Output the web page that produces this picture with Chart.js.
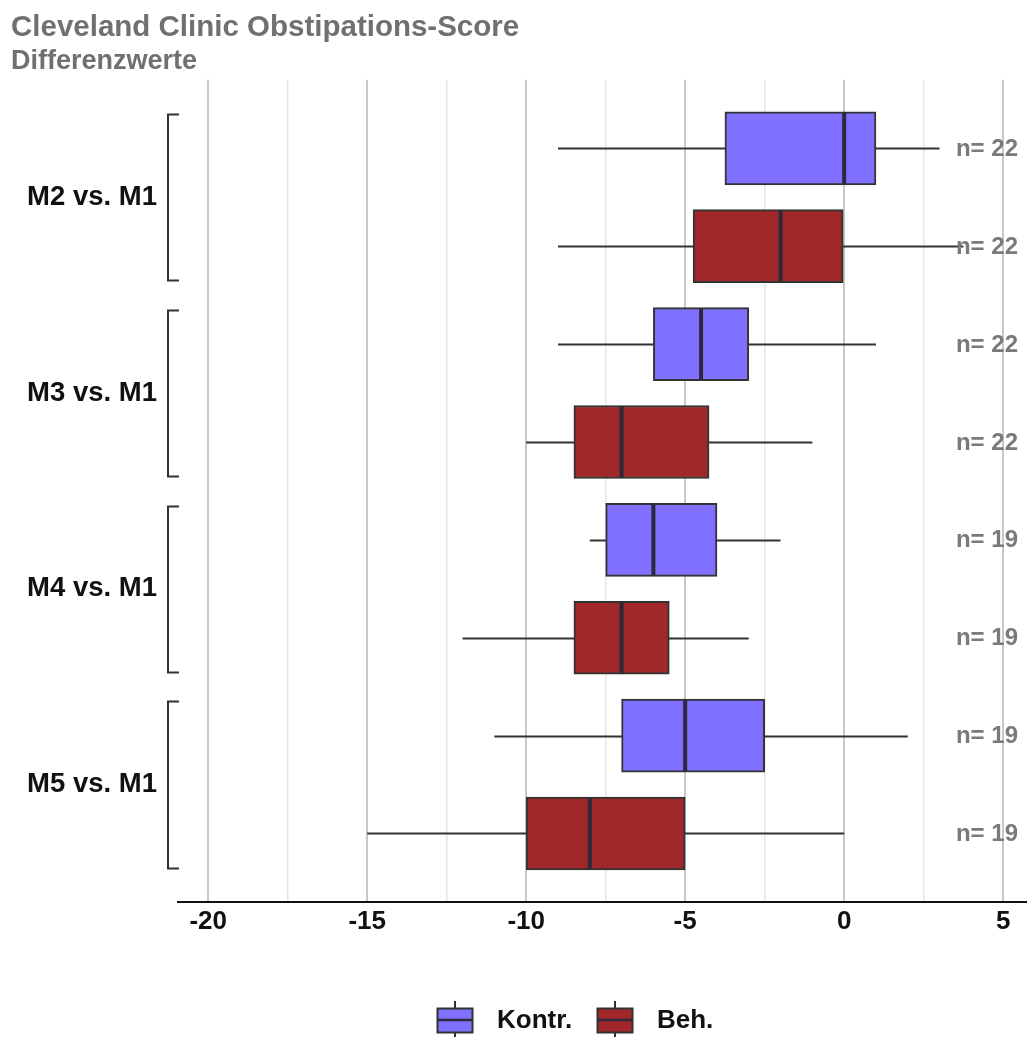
<!DOCTYPE html>
<html>
<head>
<meta charset="utf-8">
<script src="https://cdn.jsdelivr.net/npm/chart.js@4"></script>
<style>
  html, body { margin: 0; padding: 0; background: #ffffff; }
  canvas { display: block; }
</style>
</head>
<body>
<canvas id="c" width="1027" height="1037"></canvas>
<script>
// Comparisons shown on the vertical axis
const categories = ['M2 vs. M1', 'M3 vs. M1', 'M4 vs. M1', 'M5 vs. M1'];
const groupLabels = ['Kontr.', 'Beh.'];

// Five-number summaries of the score differences: [min, q1, median, q3, max]
const kontrStats = [
  [-9, -3.75, 0, 1, 3],
  [-9, -6, -4.5, -3, 1],
  [-8, -7.5, -6, -4, -2],
  [-11, -7, -5, -2.5, 2]
];
const behStats = [
  [-9, -4.75, -2, 0, 3.75],
  [-10, -8.5, -7, -4.25, -1],
  [-12, -8.5, -7, -5.5, -3],
  [-15, -10, -8, -5, 0]
];
// Group sizes
const kontrN = [22, 22, 19, 19];
const behN = [22, 22, 19, 19];

// Positions of the x grid lines (labelled every 5)
const xTicks = [-20, -17.5, -15, -12.5, -10, -7.5, -5, -2.5, 0, 2.5, 5];

const FONT = "'Liberation Sans', Arial, sans-serif";
const KONTR_COLOR = '#8070ff';
const BEH_COLOR = '#a0282b';
const EDGE = '#333333';
const MEDIAN = '#2c2a3a';

function rows(stats, nList, offset) {
  return stats.map((s, i) => ({ y: 2 * i + offset, x: [s[1], s[3]], stats: s, n: nList[i] }));
}

// Whiskers, medians, group brackets, sample sizes and the legend
const boxParts = {
  id: 'boxParts',
  beforeDatasetsDraw(chart) {
    const { ctx, scales: { x, y } } = chart;
    ctx.save();
    ctx.strokeStyle = EDGE;
    ctx.lineWidth = 2;
    chart.data.datasets.forEach(ds => ds.data.forEach(d => {
      const py = Math.round(y.getPixelForValue(d.y)) + 0.5;
      ctx.beginPath();
      ctx.moveTo(x.getPixelForValue(d.stats[0]), py);
      ctx.lineTo(x.getPixelForValue(d.stats[4]), py);
      ctx.stroke();
    }));
    ctx.restore();
  },
  afterDatasetsDraw(chart) {
    const { ctx, chartArea, scales: { x, y } } = chart;
    ctx.save();
    // medians
    chart.data.datasets.forEach(ds => {
      const half = ds.barThickness / 2;
      ds.data.forEach(d => {
        const py = y.getPixelForValue(d.y);
        const px = x.getPixelForValue(d.stats[2]);
        ctx.strokeStyle = MEDIAN;
        ctx.lineWidth = 4;
        ctx.beginPath();
        ctx.moveTo(px, py - half + 1);
        ctx.lineTo(px, py + half - 1);
        ctx.stroke();
      });
    });
    // sample sizes
    ctx.font = 'bold 24px ' + FONT;
    ctx.fillStyle = '#7a7a7a';
    ctx.textAlign = 'right';
    ctx.textBaseline = 'middle';
    chart.data.datasets.forEach(ds => ds.data.forEach(d => {
      ctx.fillText('n= ' + d.n, chartArea.right - 9, y.getPixelForValue(d.y) + 1);
    }));
    // brackets joining the two groups of each comparison
    ctx.strokeStyle = EDGE;
    ctx.lineWidth = 2;
    categories.forEach((c, i) => {
      const top = Math.round(y.getPixelForValue(2 * i + 1 - 0.35)) + 0.5;
      const bot = Math.round(y.getPixelForValue(2 * i + 2 + 0.35)) + 0.5;
      const x0 = chartArea.left - 10;
      const x1 = chartArea.left + 1;
      ctx.beginPath();
      ctx.moveTo(x1, top);
      ctx.lineTo(x0, top);
      ctx.lineTo(x0, bot);
      ctx.lineTo(x1, bot);
      ctx.stroke();
    });
    ctx.restore();
  },
  afterDraw(chart) {
    const { ctx } = chart;
    const items = chart.data.datasets.map(ds => ({ label: ds.label, color: ds.backgroundColor }));
    const glyphW = 36, glyphH = 25, gap = 24, spacing = 25;
    const cy = 1020, centerX = 575;
    ctx.save();
    ctx.font = 'bold 26px ' + FONT;
    const widths = items.map(it => glyphW + gap + ctx.measureText(it.label).width);
    const total = widths.reduce((a, b) => a + b, 0) + spacing * (items.length - 1);
    let xPos = centerX - total / 2;
    items.forEach((it, i) => {
      const gx = Math.round(xPos), gy = Math.round(cy - glyphH / 2);
      const mid = gx + glyphW / 2;
      ctx.strokeStyle = EDGE;
      ctx.lineWidth = 2;
      ctx.beginPath();
      ctx.moveTo(mid, cy - 19);
      ctx.lineTo(mid, cy + 19);
      ctx.stroke();
      ctx.fillStyle = it.color;
      ctx.fillRect(gx, gy, glyphW, glyphH);
      ctx.strokeRect(gx + 0.5, gy + 0.5, glyphW - 1, glyphH - 1);
      ctx.strokeStyle = MEDIAN;
      ctx.lineWidth = 2.5;
      ctx.beginPath();
      ctx.moveTo(gx + 1, cy);
      ctx.lineTo(gx + glyphW - 1, cy);
      ctx.stroke();
      ctx.fillStyle = '#111111';
      ctx.textAlign = 'left';
      ctx.textBaseline = 'middle';
      ctx.fillText(it.label, gx + glyphW + gap, cy + 1);
      xPos += widths[i] + spacing;
    });
    ctx.restore();
  }
};

new Chart(document.getElementById('c'), {
  type: 'bar',
  data: {
    datasets: [
      {
        label: groupLabels[0],
        data: rows(kontrStats, kontrN, 1),
        backgroundColor: KONTR_COLOR,
        borderColor: EDGE,
        borderWidth: 2,
        borderSkipped: false,
        barThickness: 73,
        grouped: false
      },
      {
        label: groupLabels[1],
        data: rows(behStats, behN, 2),
        backgroundColor: BEH_COLOR,
        borderColor: EDGE,
        borderWidth: 2,
        borderSkipped: false,
        barThickness: 73,
        grouped: false
      }
    ]
  },
  options: {
    indexAxis: 'y',
    responsive: false,
    devicePixelRatio: 1,
    animation: false,
    layout: { padding: { left: 11, right: 0, top: 0, bottom: 0 } },
    plugins: {
      legend: { display: false },
      tooltip: { enabled: false },
      title: {
        display: true,
        text: 'Cleveland Clinic Obstipations-Score',
        align: 'start',
        color: '#707070',
        font: { family: FONT, size: 29.5, weight: 'bold' },
        padding: { top: 10, bottom: 0 }
      },
      subtitle: {
        display: true,
        text: 'Differenzwerte',
        align: 'start',
        color: '#707070',
        font: { family: FONT, size: 27, weight: 'bold' },
        padding: { top: 0, bottom: 2 }
      }
    },
    scales: {
      x: {
        type: 'linear',
        position: 'bottom',
        min: -20.95,
        max: 5.75,
        offset: false,
        afterBuildTicks: s => { s.ticks = xTicks.map(v => ({ value: v })); },
        afterFit: s => { s.height = 135; },
        ticks: {
          autoSkip: false,
          maxRotation: 0,
          padding: 4,
          color: '#111111',
          font: { family: FONT, size: 26, weight: 'bold' },
          callback: v => (v % 5 === 0 ? String(v) : '')
        },
        grid: {
          drawTicks: false,
          color: c => (c.tick && c.tick.value % 5 === 0 ? '#c8c8c8' : '#e6e6e6'),
          lineWidth: c => (c.tick && c.tick.value % 5 === 0 ? 2 : 1.5)
        },
        border: { display: true, color: '#111111', width: 2 }
      },
      y: {
        type: 'linear',
        position: 'left',
        reverse: true,
        min: 0.3,
        max: 8.7,
        offset: false,
        afterBuildTicks: s => { s.ticks = categories.map((c, i) => ({ value: 2 * i + 1.5 })); },
        afterFit: s => { s.width = 167; },
        ticks: {
          autoSkip: false,
          padding: 21,
          color: '#111111',
          font: { family: FONT, size: 27.5, weight: 'bold' },
          callback: v => categories[Math.round((v - 1.5) / 2)]
        },
        grid: { display: false, drawTicks: false, offset: false },
        border: { display: false }
      }
    }
  },
  plugins: [boxParts]
});
</script>
</body>
</html>
